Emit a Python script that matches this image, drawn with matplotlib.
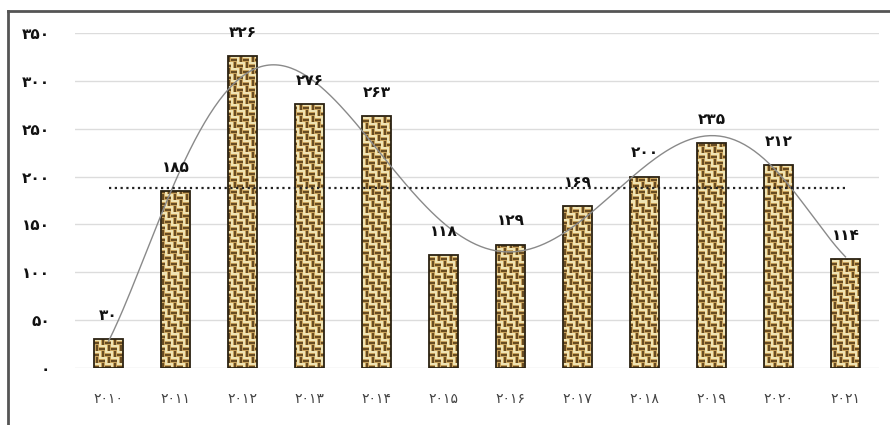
import numpy as np
import matplotlib
matplotlib.use('Agg')
from matplotlib import pyplot as plt
from matplotlib.lines import Line2D

"""Dados do gráfico"""
years = ['2010', '2011', '2012', '2013', '2014', '2015',
         '2016', '2017', '2018', '2019', '2020', '2021']
values = [30, 185, 326, 276, 263, 118, 129, 169, 200, 235, 212, 114]
y_ticks = [0, 50, 100, 150, 200, 250, 300, 350]

FA_DIGITS = str.maketrans('0123456789', '۰۱۲۳۴۵۶۷۸۹')


def fa(s):
    """Converte algarismos para persa"""
    return str(s).translate(FA_DIGITS)


def weave(h, w, b=6):
    """Textura tipo cesto (trama) para as barras"""
    yy, xx = np.mgrid[0:h, 0:w]
    horiz = ((yy // b) + (xx // b)) % 2 == 0
    cycle = np.array([0, 0, 1, 2, 2, 1])
    stripe = np.where(horiz, cycle[yy % 6], cycle[xx % 6])
    palette = np.array([[240, 228, 180],
                        [200, 162, 92],
                        [104, 76, 34]]) / 255
    return palette[stripe]


plt.rcParams['font.family'] = ['DejaVu Sans']

W, H = 890, 425
fig = plt.figure(figsize=(W / 100, H / 100), dpi=100)
left, right, bottom, top = 75, 879, 57, 392
ax = fig.add_axes([left / W, bottom / H, (right - left) / W, (top - bottom) / H])

x = np.arange(len(values))
xlim = (-0.5, len(values) - 0.5)
ylim = (0, 350)
ax.set_xlim(*xlim)
ax.set_ylim(*ylim)

# grade
ax.set_axisbelow(True)
ax.yaxis.grid(True, color='#dcdcdc', lw=1)
for s in ax.spines.values():
    s.set_visible(False)

# barras com textura
bars = ax.bar(x, values, width=0.42, facecolor='none', edgecolor='#2b2212',
              lw=1.3, zorder=3)
tex = weave(top - bottom, right - left)
for b in bars:
    im = ax.imshow(tex, extent=(*xlim, *ylim), aspect='auto',
                   interpolation='nearest', origin='upper', zorder=2)
    im.set_clip_path(b)

# linha de tendência polinomial
coef = np.polyfit(x, values, 6)
xs = np.linspace(x[0], x[-1], 300)
ax.plot(xs, np.polyval(coef, xs), color='#8a8a8a', lw=1, zorder=4)

# linha da média
mean = np.mean(values)
ax.plot([x[0], x[-1]], [mean, mean], color='#222222', lw=1.6,
        ls=(0, (1, 1.6)), zorder=4)

# rótulos das barras
for xi, v in zip(x, values):
    ax.annotate(fa(v), (xi, v), xytext=(0, 17), textcoords='offset points',
                ha='center', va='center', fontsize=11, fontweight='bold',
                color='#111111', zorder=5)

ax.set_xticks(x)
ax.set_xticklabels([fa(y) for y in years], fontsize=10, color='#444444')
ax.set_yticks(y_ticks)
ax.set_yticklabels([fa(t) for t in y_ticks], fontsize=11, fontweight='bold',
                   color='#111111')
ax.tick_params(axis='x', length=0, pad=17)
ax.tick_params(axis='y', length=0, pad=18)

# moldura externa
fig.add_artist(Line2D([8 / W, 1], [1 - 11 / H] * 2, transform=fig.transFigure,
                      color='#555555', lw=2))
fig.add_artist(Line2D([8 / W] * 2, [0, 1 - 11 / H], transform=fig.transFigure,
                      color='#555555', lw=2))

fig.savefig('out.png', dpi=100, facecolor='white')
